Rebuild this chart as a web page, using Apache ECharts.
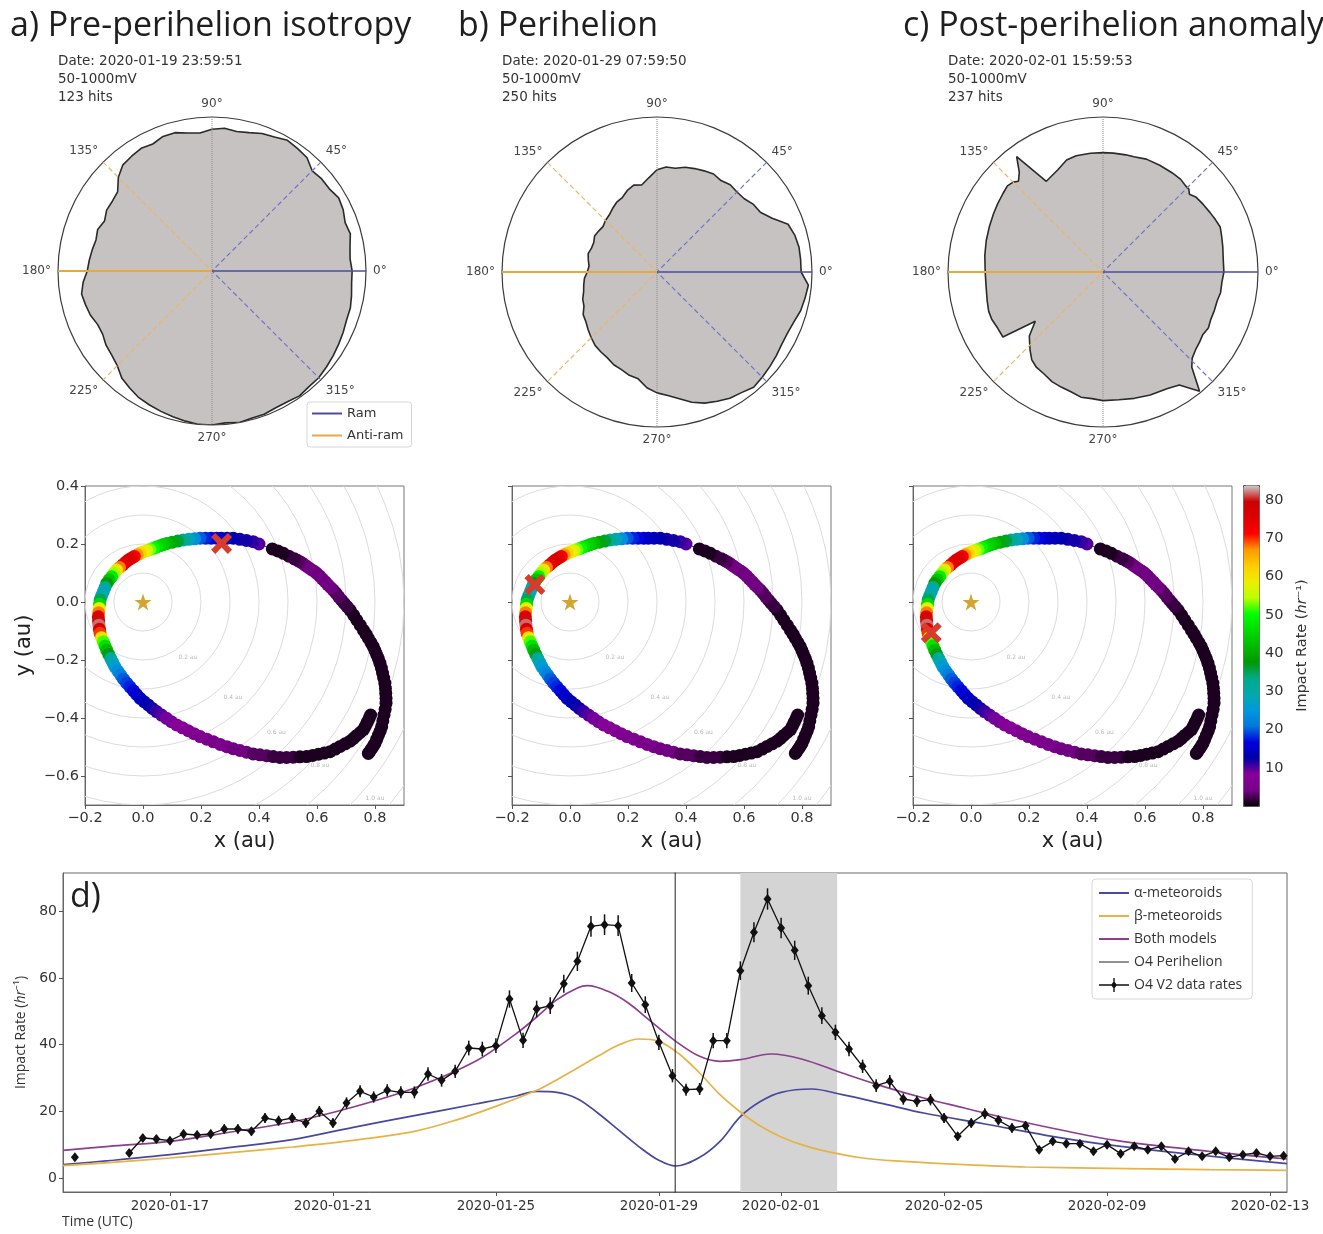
<!DOCTYPE html>
<html>
<head>
<meta charset="utf-8">
<title>Orbit 4 dust impact rates</title>
<script src="https://cdn.jsdelivr.net/npm/echarts@6/dist/echarts.min.js"></script>
<style>
  html, body { margin: 0; padding: 0; background: #fff; }
  #chart { width: 1323px; height: 1234px; }
</style>
</head>
<body>
<div id="chart"></div>
<script>
// ---- a/b) impact direction histograms, radius normalised to the outer ring
var polarAngles = [0, 5, 10, 15, 20, 25, 30, 35, 40, 45, 50, 55, 60, 65, 70, 75, 80, 85, 90, 95,
  100, 105, 110, 115, 120, 125, 130, 135, 140, 145, 150, 155, 160, 165, 170, 175, 180, 185, 190, 195,
  200, 205, 210, 215, 220, 225, 230, 235, 240, 245, 250, 255, 260, 265, 270, 275, 280, 285, 290, 295,
  300, 305, 310, 315, 320, 325, 330, 335, 340, 345, 350, 355];
var radiiPre = [0.91, 0.90, 0.91, 0.93, 0.92, 0.94, 0.95, 0.93, 0.93, 0.92,
  0.96, 0.97, 0.98, 0.96, 0.95, 0.93, 0.92, 0.93, 0.92, 0.90,
  0.91, 0.93, 0.93, 0.91, 0.92, 0.91, 0.90, 0.86, 0.80, 0.79,
  0.79, 0.77, 0.79, 0.78, 0.79, 0.80, 0.81, 0.84, 0.86, 0.85,
  0.84, 0.82, 0.82, 0.84, 0.85, 0.87, 0.91, 0.93, 0.95, 0.96,
  0.97, 0.98, 0.99, 1.00, 1.00, 0.99, 1.00, 0.99, 0.99, 0.98,
  0.98, 0.99, 0.98, 0.98, 0.97, 0.96, 0.95, 0.94, 0.93, 0.93,
  0.92, 0.91];
var radiiPeri = [0.93, 0.93, 0.93, 0.92, 0.90, 0.82, 0.77, 0.76, 0.735, 0.73,
  0.735, 0.72, 0.73, 0.72, 0.71, 0.70, 0.68, 0.68, 0.66, 0.61,
  0.57, 0.58, 0.56, 0.53, 0.52, 0.50, 0.48, 0.47, 0.455, 0.46,
  0.465, 0.45, 0.45, 0.46, 0.45, 0.44, 0.45, 0.47, 0.48, 0.49,
  0.51, 0.52, 0.55, 0.56, 0.58, 0.60, 0.62, 0.63, 0.64, 0.66,
  0.67, 0.69, 0.70, 0.75, 0.78, 0.80, 0.83, 0.87, 0.90, 0.92,
  0.94, 0.95, 0.97, 0.96, 0.95, 0.94, 0.93, 0.93, 0.94, 0.96,
  0.97, 0.98];
// c) has sharp spikes, so it keeps its own angles
var anomalyAngles = [0, 6, 12, 17, 21, 25, 29, 34, 39, 42, 44, 46, 50, 55, 62, 69, 75, 79, 85, 90,
  96, 103, 108, 114, 122, 126.8, 130, 133, 135, 138, 142, 147, 152, 158, 165, 172, 180, 187, 194, 199,
  203, 208, 213, 216, 221, 227, 231, 235, 240, 245, 250, 255, 260, 265, 270, 277, 284, 291, 299, 304,
  309, 313, 316, 320, 324, 328, 332, 336, 341, 346, 350, 355];
var anomalyRadii = [0.78, 0.78, 0.79, 0.80, 0.81, 0.80, 0.79, 0.78, 0.77, 0.75, 0.77, 0.77, 0.78, 0.78, 0.78, 0.78, 0.77, 0.77, 0.77, 0.77,
  0.77, 0.77, 0.76, 0.72, 0.69, 0.93, 0.84, 0.80, 0.82, 0.83, 0.82, 0.81, 0.80, 0.79, 0.78, 0.77, 0.76, 0.76, 0.77, 0.78,
  0.78, 0.77, 0.77, 0.54, 0.63, 0.69, 0.73, 0.75, 0.76, 0.78, 0.79, 0.80, 0.82, 0.82, 0.83, 0.83, 0.84, 0.85, 0.86, 0.88,
  0.99, 0.84, 0.80, 0.78, 0.77, 0.76, 0.77, 0.76, 0.76, 0.76, 0.77, 0.77];
var panelTitles = ['a) Pre-perihelion isotropy', 'b) Perihelion', 'c) Post-perihelion anomaly'];
var panelDates = ['2020-01-19 23:59:51', '2020-01-29 07:59:50', '2020-02-01 15:59:53'];
var panelHits = [123, 250, 237];

// ---- orbit track (au) coloured by impact rate (/hr)
var orbitX = [
  0.777, 0.783, 0.789, 0.795, 0.800, 0.806, 0.812, 0.818, 0.823, 0.827,
  0.831, 0.835, 0.838, 0.838, 0.837, 0.836, 0.834, 0.830, 0.826, 0.822,
  0.817, 0.812, 0.806, 0.800, 0.794, 0.786, 0.777, 0.769, 0.760, 0.749,
  0.737, 0.726, 0.714, 0.704, 0.694, 0.685, 0.675, 0.666, 0.656, 0.647,
  0.637, 0.628, 0.618, 0.609, 0.599, 0.590, 0.580, 0.570, 0.560, 0.551,
  0.541, 0.532, 0.522, 0.503, 0.484, 0.465, 0.446,
  0.400, 0.380, 0.357, 0.334, 0.311, 0.290, 0.270, 0.254, 0.235, 0.216,
  0.197, 0.178, 0.158, 0.139, 0.120, 0.101, 0.082, 0.070, 0.059, 0.047,
  0.036, 0.024, 0.013, 0.001, -0.010, -0.020, -0.030, -0.040, -0.050, -0.060,
  -0.070, -0.081, -0.091, -0.100, -0.108, -0.117, -0.125, -0.131, -0.137, -0.143,
  -0.148, -0.150, -0.151, -0.153, -0.154, -0.153, -0.152, -0.150, -0.148, -0.143,
  -0.137, -0.131, -0.125, -0.118, -0.111, -0.104, -0.097, -0.087, -0.077, -0.067,
  -0.056, -0.045, -0.033, -0.022, -0.010, 0.004,
  0.018, 0.032, 0.047, 0.064, 0.081, 0.098, 0.116, 0.136, 0.156, 0.176,
  0.197, 0.220, 0.243, 0.266, 0.289, 0.311, 0.334, 0.357, 0.380, 0.403,
  0.426, 0.449, 0.472, 0.495, 0.518, 0.541, 0.564, 0.585, 0.605, 0.625,
  0.645, 0.663, 0.680, 0.697, 0.714, 0.726, 0.737, 0.749, 0.760, 0.767,
  0.773, 0.779, 0.785];
var orbitY = [
  -0.522, -0.514, -0.505, -0.496, -0.487, -0.473, -0.459, -0.445, -0.430, -0.410,
  -0.390, -0.370, -0.349, -0.332, -0.315, -0.298, -0.280, -0.262, -0.245, -0.228,
  -0.211, -0.196, -0.182, -0.168, -0.154, -0.140, -0.125, -0.111, -0.097, -0.080,
  -0.062, -0.045, -0.028, -0.016, -0.005, 0.006, 0.018, 0.030, 0.041, 0.050,
  0.060, 0.070, 0.080, 0.090, 0.099, 0.106, 0.112, 0.119, 0.126, 0.133,
  0.139, 0.144, 0.149, 0.158, 0.168, 0.176, 0.183,
  0.200, 0.208, 0.212, 0.216, 0.220, 0.220, 0.220, 0.220, 0.220, 0.220,
  0.220, 0.218, 0.216, 0.214, 0.210, 0.206, 0.202, 0.198, 0.194, 0.190,
  0.185, 0.181, 0.177, 0.173, 0.168, 0.163, 0.157, 0.151, 0.145, 0.137,
  0.128, 0.119, 0.110, 0.099, 0.087, 0.076, 0.064, 0.050, 0.035, 0.021,
  0.007, -0.008, -0.022, -0.037, -0.051, -0.066, -0.080, -0.094, -0.108, -0.123,
  -0.137, -0.152, -0.166, -0.181, -0.195, -0.209, -0.223, -0.238, -0.252, -0.266,
  -0.280, -0.293, -0.306, -0.319, -0.332, -0.344,
  -0.355, -0.367, -0.378, -0.390, -0.401, -0.413, -0.424, -0.434, -0.444, -0.454,
  -0.464, -0.473, -0.482, -0.491, -0.499, -0.506, -0.512, -0.518, -0.524, -0.527,
  -0.530, -0.533, -0.536, -0.536, -0.535, -0.534, -0.533, -0.529, -0.525, -0.521,
  -0.516, -0.507, -0.498, -0.489, -0.480, -0.470, -0.460, -0.450, -0.440, -0.428,
  -0.415, -0.403, -0.390];
var orbitRate = [
  1, 1, 1, 1, 1, 1, 1, 1, 1, 1,
  1, 1, 1, 1, 1, 1, 1, 1, 1, 1,
  1, 1, 1, 1, 1, 1, 1, 1, 1, 1,
  1, 1, 1, 2, 2, 2, 3, 3, 3, 4,
  4, 4, 4, 4, 4, 4, 4, 4, 4, 4,
  3, 3, 2, 2, 1, 1, 1,
  10, 11, 12, 12, 13, 14, 14, 15, 17, 18,
  20, 24, 28, 32, 36, 40, 42, 44, 45, 47,
  50, 53, 56, 59, 62, 67, 72, 75, 76, 76,
  74, 68, 60, 54, 48, 43, 38, 32, 28, 30,
  35, 46, 58, 68, 76, 80, 82, 77, 70, 60,
  52, 47, 42, 37, 32, 29, 26, 24, 22, 20,
  19, 18, 17, 16, 15, 14,
  13, 12, 11, 10, 9, 9, 8, 8, 7, 7,
  6, 6, 5, 5, 5, 4, 4, 4, 3, 3,
  3, 2, 2, 2, 2, 1, 1, 1, 1, 1,
  1, 1, 1, 1, 1, 1, 1, 1, 1, 1,
  1, 1, 1];
var probeAt = [[0.271, 0.202], [-0.121, 0.060], [-0.137, -0.106]];
var ringRadii = [0.1, 0.2, 0.3, 0.4, 0.5, 0.6, 0.7, 0.8, 0.9, 1.0, 1.1, 1.2];
var ringLabelText = ['0.2 au', '0.4 au', '0.6 au', '0.8 au', '1.0 au'];
var ringLabelX = [0.155, 0.310, 0.460, 0.610, 0.800];
var ringLabelY = [-0.190, -0.330, -0.450, -0.562, -0.676];
var orbitXTicks = [-0.2, 0, 0.2, 0.4, 0.6, 0.8];
var orbitYTicks = [-0.6, -0.4, -0.2, 0, 0.2, 0.4];
var rateTicks = [10, 20, 30, 40, 50, 60, 70, 80];
// nipy_spectral
var spectral = ['#000000', '#770088', '#880099', '#0000aa', '#0000dd', '#0077dd', '#0099dd', '#00aaaa', '#00aa88', '#009900',
  '#00bb00', '#00dd00', '#00ff00', '#bbff00', '#eeee00', '#ffcc00', '#ff9900', '#ff0000', '#dd0000', '#cc0000', '#cccccc'];

// ---- d) time series: [time UTC, rate /hr, error]
var dataRows = [
  ['2020-01-14 16:00', 6.2, 0.9], ['2020-01-15 08:00', null, null],
  ['2020-01-16 00:00', 7.5, 1.0], ['2020-01-16 08:00', 12.0, 1.2], ['2020-01-16 16:00', 11.7, 1.2],
  ['2020-01-17 00:00', 11.2, 1.2], ['2020-01-17 08:00', 13.2, 1.3], ['2020-01-17 16:00', 12.9, 1.3],
  ['2020-01-18 00:00', 13.2, 1.3], ['2020-01-18 08:00', 14.7, 1.4], ['2020-01-18 16:00', 14.7, 1.4],
  ['2020-01-19 00:00', 14.0, 1.3], ['2020-01-19 08:00', 18.0, 1.5], ['2020-01-19 16:00', 17.2, 1.5],
  ['2020-01-20 00:00', 18.0, 1.5], ['2020-01-20 08:00', 16.5, 1.4], ['2020-01-20 16:00', 20.0, 1.6],
  ['2020-01-21 00:00', 16.5, 1.4], ['2020-01-21 08:00', 22.5, 1.7], ['2020-01-21 16:00', 26.0, 1.8],
  ['2020-01-22 00:00', 24.3, 1.7], ['2020-01-22 08:00', 26.3, 1.8], ['2020-01-22 16:00', 25.7, 1.8],
  ['2020-01-23 00:00', 25.7, 1.8], ['2020-01-23 08:00', 31.2, 2.0], ['2020-01-23 16:00', 29.3, 1.9],
  ['2020-01-24 00:00', 32.0, 2.0], ['2020-01-24 08:00', 39.0, 2.2], ['2020-01-24 16:00', 38.7, 2.2],
  ['2020-01-25 00:00', 39.7, 2.2], ['2020-01-25 08:00', 53.7, 2.6], ['2020-01-25 16:00', 41.3, 2.3],
  ['2020-01-26 00:00', 50.7, 2.5], ['2020-01-26 08:00', 51.7, 2.5], ['2020-01-26 16:00', 58.3, 2.7],
  ['2020-01-27 00:00', 65.0, 2.9], ['2020-01-27 08:00', 75.5, 3.1], ['2020-01-27 16:00', 76.0, 3.1],
  ['2020-01-28 00:00', 75.7, 3.1], ['2020-01-28 08:00', 58.5, 2.7], ['2020-01-28 16:00', 52.0, 2.5],
  ['2020-01-29 00:00', 40.7, 2.3], ['2020-01-29 08:00', 30.7, 2.0], ['2020-01-29 16:00', 26.5, 1.8],
  ['2020-01-30 00:00', 26.7, 1.8], ['2020-01-30 08:00', 41.2, 2.3], ['2020-01-30 16:00', 41.2, 2.3],
  ['2020-01-31 00:00', 62.2, 2.8], ['2020-01-31 08:00', 73.7, 3.0], ['2020-01-31 16:00', 83.7, 3.2],
  ['2020-02-01 00:00', 75.0, 3.1], ['2020-02-01 08:00', 68.3, 2.9], ['2020-02-01 16:00', 57.7, 2.7],
  ['2020-02-02 00:00', 48.7, 2.5], ['2020-02-02 08:00', 43.7, 2.3], ['2020-02-02 16:00', 38.7, 2.2],
  ['2020-02-03 00:00', 33.5, 2.0], ['2020-02-03 08:00', 27.7, 1.9], ['2020-02-03 16:00', 29.0, 1.9],
  ['2020-02-04 00:00', 23.7, 1.7], ['2020-02-04 08:00', 23.0, 1.7], ['2020-02-04 16:00', 23.5, 1.7],
  ['2020-02-05 00:00', 18.0, 1.5], ['2020-02-05 08:00', 12.5, 1.3], ['2020-02-05 16:00', 16.5, 1.4],
  ['2020-02-06 00:00', 19.3, 1.6], ['2020-02-06 08:00', 17.3, 1.5], ['2020-02-06 16:00', 15.0, 1.4],
  ['2020-02-07 00:00', 15.7, 1.4], ['2020-02-07 08:00', 8.5, 1.0], ['2020-02-07 16:00', 11.0, 1.2],
  ['2020-02-08 00:00', 10.3, 1.1], ['2020-02-08 08:00', 10.3, 1.1], ['2020-02-08 16:00', 8.0, 1.0],
  ['2020-02-09 00:00', 10.0, 1.1], ['2020-02-09 08:00', 7.3, 1.0], ['2020-02-09 16:00', 9.5, 1.1],
  ['2020-02-10 00:00', 8.5, 1.0], ['2020-02-10 08:00', 9.5, 1.1], ['2020-02-10 16:00', 5.7, 0.8],
  ['2020-02-11 00:00', 8.0, 1.0], ['2020-02-11 08:00', 6.5, 0.9], ['2020-02-11 16:00', 8.0, 1.0],
  ['2020-02-12 00:00', 6.2, 0.9], ['2020-02-12 08:00', 7.0, 0.9], ['2020-02-12 16:00', 7.5, 1.0],
  ['2020-02-13 00:00', 6.5, 0.9], ['2020-02-13 08:00', 6.7, 0.9]
];
var alphaModel = [
  ['2020-01-14 09:00', 4.0], ['2020-01-15 12:00', 5.2], ['2020-01-17 00:00', 7.0], ['2020-01-18 12:00', 9.2],
  ['2020-01-20 00:00', 11.5], ['2020-01-21 12:00', 15.2], ['2020-01-23 00:00', 18.7], ['2020-01-24 12:00', 22.2],
  ['2020-01-25 12:00', 24.6], ['2020-01-26 00:00', 26.0], ['2020-01-26 12:00', 25.7], ['2020-01-27 00:00', 23.8],
  ['2020-01-27 12:00', 19.5], ['2020-01-28 00:00', 14.5], ['2020-01-28 12:00', 9.5], ['2020-01-29 00:00', 5.3],
  ['2020-01-29 10:00', 3.6], ['2020-01-30 00:00', 6.2], ['2020-01-30 12:00', 11.0], ['2020-01-31 00:00', 18.4],
  ['2020-01-31 12:00', 23.0], ['2020-02-01 00:00', 25.7], ['2020-02-01 18:00', 26.7], ['2020-02-02 12:00', 25.0],
  ['2020-02-03 12:00', 22.3], ['2020-02-04 12:00', 19.5], ['2020-02-06 00:00', 16.2], ['2020-02-07 12:00', 12.8],
  ['2020-02-09 00:00', 10.0], ['2020-02-11 00:00', 7.2], ['2020-02-13 10:00', 4.3]
];
var betaModel = [
  ['2020-01-14 09:00', 3.7], ['2020-01-15 12:00', 4.6], ['2020-01-17 00:00', 6.0], ['2020-01-18 12:00', 7.6],
  ['2020-01-20 00:00', 9.3], ['2020-01-21 12:00', 11.3], ['2020-01-23 00:00', 14.0], ['2020-01-24 00:00', 17.3],
  ['2020-01-25 00:00', 21.5], ['2020-01-26 00:00', 26.3], ['2020-01-26 12:00', 29.5], ['2020-01-27 00:00', 33.0],
  ['2020-01-27 12:00', 36.5], ['2020-01-28 00:00', 39.8], ['2020-01-28 12:00', 41.7], ['2020-01-29 00:00', 41.0],
  ['2020-01-29 12:00', 37.2], ['2020-01-30 00:00', 31.5], ['2020-01-30 12:00', 25.0], ['2020-01-31 00:00', 19.8],
  ['2020-01-31 12:00', 15.5], ['2020-02-01 00:00', 12.3], ['2020-02-01 12:00', 10.0], ['2020-02-02 00:00', 8.3],
  ['2020-02-03 00:00', 6.0], ['2020-02-04 00:00', 5.0], ['2020-02-05 12:00', 4.0], ['2020-02-07 00:00', 3.3],
  ['2020-02-09 12:00', 2.8], ['2020-02-11 12:00', 2.5], ['2020-02-13 10:00', 2.3]
];
var bothModel = [
  ['2020-01-14 09:00', 8.3], ['2020-01-15 12:00', 9.5], ['2020-01-17 00:00', 11.0], ['2020-01-18 12:00', 13.8],
  ['2020-01-20 00:00', 16.8], ['2020-01-21 12:00', 21.3], ['2020-01-23 00:00', 27.0], ['2020-01-24 12:00', 35.0],
  ['2020-01-25 12:00', 43.3], ['2020-01-26 00:00', 48.3], ['2020-01-26 12:00', 53.5], ['2020-01-27 00:00', 57.0],
  ['2020-01-27 06:00', 57.7], ['2020-01-27 18:00', 56.0], ['2020-01-28 06:00', 52.5], ['2020-01-28 18:00', 47.5],
  ['2020-01-29 10:00', 41.0], ['2020-01-30 00:00', 36.5], ['2020-01-30 12:00', 35.0], ['2020-01-31 00:00', 35.5],
  ['2020-01-31 18:00', 37.2], ['2020-02-01 12:00', 35.7], ['2020-02-02 12:00', 31.5], ['2020-02-03 12:00', 27.5],
  ['2020-02-04 12:00', 24.0], ['2020-02-05 12:00', 21.0], ['2020-02-06 12:00', 18.0], ['2020-02-07 18:00', 14.7],
  ['2020-02-09 06:00', 11.2], ['2020-02-11 12:00', 8.0], ['2020-02-13 10:00', 5.7]
];
var perihelionTime = '2020-01-29 09:37';
var anomalyWindow = ['2020-01-31 00:00', '2020-02-02 09:00'];
var timeRange = ['2020-01-14 09:00', '2020-02-13 10:00'];
var dateTicks = ['2020-01-17', '2020-01-21', '2020-01-25', '2020-01-29', '2020-02-01', '2020-02-05', '2020-02-09', '2020-02-13'];
var rateAxisTicks = [0, 20, 40, 60, 80];

// ----------------------------------------------------------------
function ts(s) {
  if (s.length === 10) s += ' 00:00';
  return Date.parse(s.replace(' ', 'T') + ':00Z');
}
function fmtAu(v) { return v.toFixed(1).replace('-', '\u2212'); }

var chart = echarts.init(document.getElementById('chart'), null, { renderer: 'canvas' });

var lineIcon = 'path://M0,0h30v2h-30z';
var thinIcon = 'path://M0,0h30v1h-30z';
var rateIcon = 'path://M0,6.3h30v1.4h-30z M15,3l3,4l-3,4l-3,-4z M14.3,0h1.4v14h-1.4z';
var starPath = 'path://M50,2L61.8,38.2L99.5,38.2L69,60.5L80.6,96.5L50,74.3L19.4,96.5L31,60.5L0.5,38.2L38.2,38.2Z';
var crossPath = 'path://M0,4L4,0L10,6L16,0L20,4L14,10L20,16L16,20L10,14L4,20L0,16L6,10Z';

var series = [];

// polar panels
var shapes = [
  { angles: polarAngles, radii: radiiPre },
  { angles: polarAngles, radii: radiiPeri },
  { angles: anomalyAngles, radii: anomalyRadii }
];
shapes.forEach(function (p, i) {
  var outline = p.angles.map(function (a, k) { return [p.radii[k], a]; });
  outline.push([p.radii[0], 360]);
  series.push({
    type: 'line', coordinateSystem: 'polar', polarIndex: i, silent: true, z: 2,
    data: outline, symbol: 'none',
    lineStyle: { color: '#2a2a2a', width: 1.6 },
    areaStyle: { color: '#c6c2c2', opacity: 1 }
  });
  var refs = [
    { name: 'vertical', data: [[1, 90], [0, 0], [1, 270]], color: '#8a8a8a', type: 'dotted', width: 1 },
    { name: 'Ram side', data: [[1, 45], [0, 0], [1, 315]], color: '#7474c4', type: [5, 3], width: 1.2 },
    { name: 'Anti-ram side', data: [[1, 135], [0, 0], [1, 225]], color: '#ebb565', type: [5, 3], width: 1.2 },
    { name: 'Ram', data: [[0, 0], [1, 0]], color: '#4a4aa2', type: 'solid', width: 1.6 },
    { name: 'Anti-ram', data: [[0, 0], [1, 180]], color: '#e8a93c', type: 'solid', width: 1.8 }
  ];
  refs.forEach(function (r) {
    series.push({
      type: 'line', name: r.name, coordinateSystem: 'polar', polarIndex: i, silent: true, z: 3,
      data: r.data, symbol: 'none', color: r.color,
      lineStyle: { color: r.color, width: r.width, type: r.type }
    });
  });
});

// orbit panels
var orbitData = orbitX.map(function (x, k) { return [x, orbitY[k], orbitRate[k]]; });
var orbitPath = orbitX.map(function (x, k) { return [x, orbitY[k]]; });
var orbitSeriesIdx = [];
[0, 1, 2].forEach(function (g) {
  series.push({
    type: 'custom', xAxisIndex: g, yAxisIndex: g, clip: true, silent: true, z: 1,
    data: ringRadii.map(function (r) { return [0, 0, r]; }),
    renderItem: function (params, api) {
      var c = api.coord([api.value(0), api.value(1)]);
      var r = api.size([api.value(2), 0])[0];
      return { type: 'circle', shape: { cx: c[0], cy: c[1], r: r }, style: { fill: 'none', stroke: '#dcdcdc', lineWidth: 1 } };
    }
  });
  series.push({
    type: 'scatter', xAxisIndex: g, yAxisIndex: g, silent: true, z: 2, symbolSize: 0,
    data: ringLabelText.map(function (t, k) { return [ringLabelX[k], ringLabelY[k], t]; }),
    label: { show: true, position: 'inside', formatter: function (p) { return p.value[2]; }, fontSize: 6, color: '#a8a8a8' }
  });
  // thin track under the dots (only visible across the data gap)
  series.push({
    type: 'line', xAxisIndex: g, yAxisIndex: g, silent: true, z: 2,
    data: orbitPath, symbol: 'none', lineStyle: { color: '#333', width: 1 }
  });
  orbitSeriesIdx.push(series.length);
  series.push({
    type: 'scatter', xAxisIndex: g, yAxisIndex: g, silent: true, z: 3,
    data: orbitData, symbol: 'circle', symbolSize: 13, itemStyle: { opacity: 1 }
  });
  series.push({
    type: 'scatter', xAxisIndex: g, yAxisIndex: g, silent: true, z: 4,
    data: [[0, 0]], symbol: starPath, symbolSize: 17, itemStyle: { color: '#d2a430', opacity: 1 }
  });
  series.push({
    type: 'scatter', xAxisIndex: g, yAxisIndex: g, silent: true, z: 5,
    data: [probeAt[g]], symbol: crossPath, symbolSize: 21, itemStyle: { color: '#d83a2c', opacity: 1 }
  });
});

// time series panel (x is a numeric UTC timestamp axis)
var tsData = function (arr) { return arr.map(function (p) { return [ts(p[0]), p[1]]; }); };
series.push({
  type: 'line', name: 'anomaly window', xAxisIndex: 4, yAxisIndex: 4, data: [], z: 1, silent: true,
  markArea: { silent: true, itemStyle: { color: '#d4d4d4' }, data: [[{ xAxis: ts(anomalyWindow[0]) }, { xAxis: ts(anomalyWindow[1]) }]] }
});
[
  { name: '\u03b1-meteoroids', data: alphaModel, color: '#48489e' },
  { name: '\u03b2-meteoroids', data: betaModel, color: '#e7b246' },
  { name: 'Both models', data: bothModel, color: '#8c3f8e' }
].forEach(function (m) {
  series.push({
    type: 'line', name: m.name, xAxisIndex: 4, yAxisIndex: 4, z: 2, silent: true,
    data: tsData(m.data), smooth: 0.35, symbol: 'none', color: m.color,
    lineStyle: { color: m.color, width: 1.7 }
  });
});
series.push({
  type: 'line', name: 'O4 Perihelion', xAxisIndex: 4, yAxisIndex: 4, z: 3, silent: true,
  data: [[ts(perihelionTime), -10], [ts(perihelionTime), 100]], symbol: 'none', color: '#222',
  lineStyle: { color: '#222', width: 1 }
});
series.push({
  type: 'custom', xAxisIndex: 4, yAxisIndex: 4, z: 4, silent: true,
  data: dataRows.filter(function (r) { return r[1] !== null; }).map(function (r) { return [ts(r[0]), r[1], r[2]]; }),
  renderItem: function (params, api) {
    var t = api.value(0), v = api.value(1), e = api.value(2);
    var lo = api.coord([t, v - e]), hi = api.coord([t, v + e]);
    return { type: 'line', shape: { x1: lo[0], y1: lo[1], x2: hi[0], y2: hi[1] }, style: { stroke: '#111', lineWidth: 1.5 } };
  }
});
series.push({
  type: 'line', name: 'O4 V2 data rates', xAxisIndex: 4, yAxisIndex: 4, z: 5, silent: true,
  data: dataRows.map(function (r) { return [ts(r[0]), r[1] === null ? '-' : r[1]]; }),
  symbol: 'diamond', symbolSize: [8, 10], showAllSymbol: true, color: '#111',
  itemStyle: { color: '#111' }, lineStyle: { color: '#111', width: 1.3 }
});

// titles and notes
var titles = [];
var titleLeft = [10, 458, 903];
var noteLeft = [58, 502, 948];
panelTitles.forEach(function (t, i) {
  titles.push({ text: t, left: titleLeft[i], top: 9, padding: 0,
    textStyle: { fontFamily: 'Open Sans', fontSize: 34, fontWeight: 'normal', color: '#1e1e1e' } });
  titles.push({ text: 'Date: ' + panelDates[i] + '\n50-1000mV\n' + panelHits[i] + ' hits', left: noteLeft[i], top: 52, padding: 0,
    textStyle: { fontFamily: 'DejaVu Sans', fontSize: 13.5, fontWeight: 'normal', color: '#333', lineHeight: 18 } });
});
titles.push({ text: 'd)', left: 70, top: 880, padding: 0,
  textStyle: { fontFamily: 'Open Sans', fontSize: 34, fontWeight: 'normal', color: '#1e1e1e' } });
titles.push({ text: 'Time (UTC)', left: 62, top: 1215, padding: 0,
  textStyle: { fontFamily: 'Open Sans', fontSize: 14, fontWeight: 'normal', color: '#333' } });

var polarCenters = [[212, 271], [657, 272], [1103, 272]];
var polarRadius = [154, 155, 155];

var orbitGrids = [{ left: 85, top: 486, width: 319, height: 319 }, { left: 512, top: 486, width: 319, height: 319 }, { left: 913, top: 486, width: 319, height: 319 }];
var axisLineStyle = { onZero: false, lineStyle: { color: '#666', width: 1 } };

var xAxes = [], yAxes = [];
orbitGrids.forEach(function (g, i) {
  xAxes.push({
    gridIndex: i, type: 'value', min: -0.2, max: 0.9,
    name: 'x (au)', nameLocation: 'middle', nameGap: 26,
    nameTextStyle: { fontSize: 21, color: '#222', fontFamily: 'DejaVu Sans' },
    axisLine: axisLineStyle, splitLine: { show: false },
    axisTick: { customValues: orbitXTicks, length: 4, lineStyle: { color: '#555' } },
    axisLabel: { customValues: orbitXTicks, formatter: fmtAu, fontSize: 14.5, color: '#333', margin: 6 }
  });
  yAxes.push({
    gridIndex: i, type: 'value', min: -0.7, max: 0.4,
    name: i === 0 ? 'y (au)' : '', nameLocation: 'middle', nameGap: 50,
    nameTextStyle: { fontSize: 21, color: '#222', fontFamily: 'DejaVu Sans' },
    axisLine: axisLineStyle, splitLine: { show: false },
    axisTick: { customValues: orbitYTicks, length: 4, lineStyle: { color: '#555' } },
    axisLabel: { show: i === 0, customValues: orbitYTicks, formatter: fmtAu, fontSize: 14.5, color: '#333', margin: 6 }
  });
});
// colour bar axis
xAxes.push({ gridIndex: 3, type: 'value', min: 0, max: 1, show: false });
yAxes.push({
  gridIndex: 3, type: 'value', position: 'right', min: 0, max: 84,
  name: 'Impact Rate ({i|hr}\u207b\u00b9)', nameLocation: 'middle', nameRotate: 90, nameGap: 36,
  nameTextStyle: { fontSize: 14.5, color: '#333', fontFamily: 'DejaVu Sans', rich: { i: { fontStyle: 'italic', fontSize: 14.5, color: '#333', fontFamily: 'DejaVu Sans' } } },
  axisLine: { show: false }, splitLine: { show: false },
  axisTick: { customValues: rateTicks, length: 4, lineStyle: { color: '#444' } },
  axisLabel: { customValues: rateTicks, fontSize: 14.5, color: '#333', margin: 6 }
});
// time series axes
xAxes.push({
  gridIndex: 4, type: 'value', min: ts(timeRange[0]), max: ts(timeRange[1]),
  axisLine: axisLineStyle, splitLine: { show: false },
  axisTick: { customValues: dateTicks.map(ts), length: 4, lineStyle: { color: '#555' } },
  axisLabel: { customValues: dateTicks.map(ts), fontSize: 13.5, color: '#333', margin: 7,
    formatter: function (v) { return new Date(v).toISOString().slice(0, 10); } }
});
yAxes.push({
  gridIndex: 4, type: 'value', min: -4.2, max: 91.5,
  name: 'Impact Rate ({i|hr}\u207b\u00b9)', nameLocation: 'middle', nameGap: 34,
  nameTextStyle: { fontSize: 14, color: '#333', fontFamily: 'Open Sans', rich: { i: { fontStyle: 'italic', fontSize: 14, color: '#333', fontFamily: 'Open Sans' } } },
  axisLine: axisLineStyle, splitLine: { show: false },
  axisTick: { customValues: rateAxisTicks, length: 4, lineStyle: { color: '#555' } },
  axisLabel: { customValues: rateAxisTicks, fontSize: 14, color: '#333', margin: 6 }
});

var option = {
  animation: false,
  backgroundColor: '#fff',
  textStyle: { fontFamily: 'DejaVu Sans' },
  title: titles,
  legend: [
    {
      left: 307, top: 402, orient: 'vertical', selectedMode: false,
      itemWidth: 30, itemHeight: 12, itemGap: 9, padding: [5, 8, 5, 5],
      borderColor: '#d6d6d6', borderWidth: 1, borderRadius: 3, backgroundColor: '#fff',
      textStyle: { fontSize: 13, color: '#333', fontFamily: 'DejaVu Sans' },
      data: [{ name: 'Ram', icon: lineIcon }, { name: 'Anti-ram', icon: lineIcon }]
    },
    {
      left: 1092, top: 879, orient: 'vertical', selectedMode: false,
      itemWidth: 30, itemHeight: 14, itemGap: 9, padding: [7, 10, 7, 7],
      borderColor: '#d8d8d8', borderWidth: 1, borderRadius: 4, backgroundColor: 'rgba(255,255,255,0.92)',
      textStyle: { fontSize: 14, color: '#333', fontFamily: 'Open Sans' },
      data: [
        { name: '\u03b1-meteoroids', icon: lineIcon },
        { name: '\u03b2-meteoroids', icon: lineIcon },
        { name: 'Both models', icon: lineIcon },
        { name: 'O4 Perihelion', icon: thinIcon },
        { name: 'O4 V2 data rates', icon: rateIcon }
      ]
    }
  ],
  polar: polarCenters.map(function (c, i) { return { center: c, radius: polarRadius[i] }; }),
  angleAxis: [0, 1, 2].map(function (i) {
    return {
      polarIndex: i, type: 'value', min: 0, max: 360, interval: 45, startAngle: 0, clockwise: false,
      axisLine: { lineStyle: { color: '#3c3c3c', width: 1.2 } },
      axisTick: { show: false }, splitLine: { show: false },
      axisLabel: { formatter: function (v) { return v === 360 ? '' : v + '\u00b0'; }, color: '#444', fontSize: 12, margin: 7 }
    };
  }),
  radiusAxis: [0, 1, 2].map(function (i) {
    return { polarIndex: i, type: 'value', min: 0, max: 1, axisLine: { show: false }, axisTick: { show: false }, axisLabel: { show: false }, splitLine: { show: false } };
  }),
  grid: orbitGrids.map(function (g) {
    return { left: g.left, top: g.top, width: g.width, height: g.height, show: true, borderColor: '#777', borderWidth: 1, backgroundColor: 'transparent' };
  }).concat([
    { left: 1243, top: 485, width: 16, height: 321, show: false },
    { left: 63, top: 873, width: 1224, height: 319, show: true, borderColor: '#666', borderWidth: 1, backgroundColor: 'transparent' }
  ]),
  xAxis: xAxes,
  yAxis: yAxes,
  visualMap: [{
    type: 'continuous', min: 0, max: 84, dimension: 2, seriesIndex: orbitSeriesIdx,
    inRange: { color: spectral }, left: 1243, top: 485, itemWidth: 16, itemHeight: 321,
    calculable: false, hoverLink: false, padding: 0, borderColor: '#555', borderWidth: 1
  }],
  series: series
};

chart.setOption(option);
</script>
</body>
</html>
